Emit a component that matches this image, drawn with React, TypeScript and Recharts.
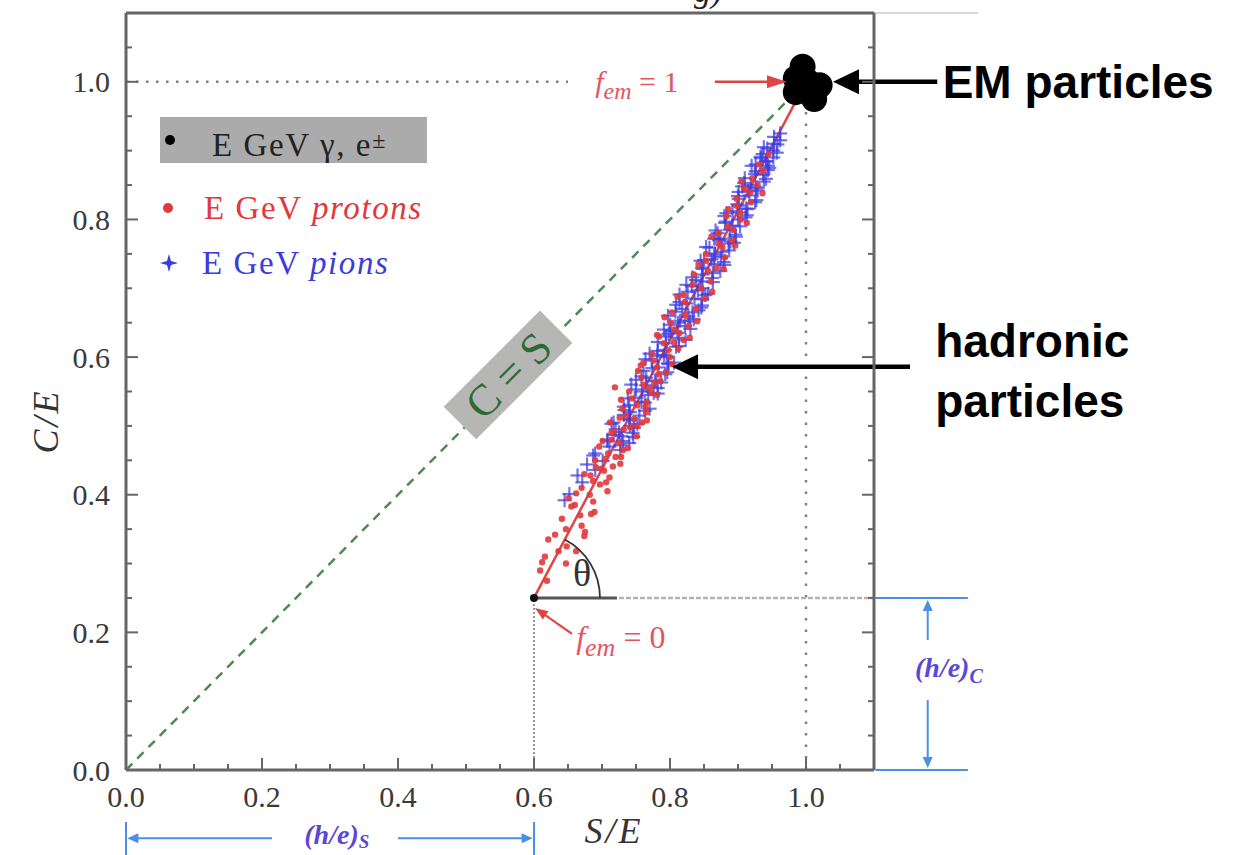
import React from "react";
import {
  ComposedChart,
  Legend,
  ReferenceDot,
  ReferenceLine,
  Scatter,
  XAxis,
  YAxis,
} from "recharts";

const serif = '"Liberation Serif", "Times New Roman", serif';
const sans = '"Liberation Sans", Arial, sans-serif';

// axis ticks (S/E and C/E share the same scale); labels only on the majors
const axisTicks = [
  0, 0.05, 0.1, 0.15, 0.2, 0.25, 0.3, 0.35, 0.4, 0.45, 0.5, 0.55, 0.6, 0.65,
  0.7, 0.75, 0.8, 0.85, 0.9, 0.95, 1.0, 1.05,
];
const majorTicks = [0, 0.2, 0.4, 0.6, 0.8, 1.0];

// series names (legend)
const EM_NAME = "E GeV γ, e±";
const P_NAME = "E GeV protons";
const PI_NAME = "E GeV pions";
const legendOrder = [EM_NAME, P_NAME, PI_NAME];

// [S/E, C/E]
const emCluster: [number, number][] = [
  [0.995, 1.022], [1.02, 0.995], [1.012, 0.975], [0.985, 0.985],
  [0.985, 1.005], [1.003, 1.0],
];

const protons: [number, number][] = [
  [0.619, 0.275], [0.609, 0.29], [0.647, 0.3], [0.616, 0.31], [0.648, 0.325],
  [0.621, 0.335], [0.674, 0.34], [0.647, 0.35], [0.67, 0.355], [0.641, 0.365],
  [0.668, 0.37], [0.689, 0.375], [0.66, 0.385], [0.687, 0.39], [0.651, 0.395],
  [0.682, 0.4], [0.708, 0.405], [0.67, 0.41], [0.697, 0.415], [0.687, 0.42],
  [0.711, 0.425], [0.674, 0.43], [0.703, 0.435], [0.691, 0.44], [0.727, 0.445],
  [0.69, 0.45], [0.72, 0.455], [0.709, 0.46], [0.731, 0.465], [0.696, 0.47],
  [0.726, 0.475], [0.714, 0.48], [0.751, 0.485], [0.714, 0.49], [0.732, 0.495],
  [0.752, 0.5], [0.712, 0.505], [0.747, 0.51], [0.735, 0.515], [0.765, 0.52],
  [0.73, 0.525], [0.752, 0.53], [0.766, 0.535], [0.744, 0.54], [0.781, 0.545],
  [0.74, 0.55], [0.77, 0.555], [0.761, 0.56], [0.786, 0.565], [0.758, 0.57],
  [0.783, 0.575], [0.753, 0.58], [0.781, 0.585], [0.803, 0.59], [0.776, 0.595],
  [0.8, 0.6], [0.773, 0.605], [0.797, 0.61], [0.791, 0.62], [0.719, 0.556],
  [0.82, 0.625], [0.784, 0.63], [0.814, 0.635], [0.806, 0.64], [0.827, 0.645],
  [0.801, 0.65], [0.823, 0.66], [0.803, 0.665], [0.838, 0.67], [0.822, 0.68],
  [0.851, 0.685], [0.82, 0.69], [0.846, 0.7], [0.833, 0.705], [0.86, 0.71],
  [0.835, 0.72], [0.856, 0.725], [0.868, 0.73], [0.853, 0.74], [0.881, 0.745],
  [0.853, 0.75], [0.877, 0.76], [0.871, 0.765], [0.891, 0.77], [0.871, 0.78],
  [0.893, 0.785], [0.885, 0.79], [0.904, 0.8], [0.883, 0.805], [0.903, 0.81],
  [0.898, 0.82], [0.919, 0.825], [0.898, 0.83], [0.918, 0.84], [0.91, 0.845],
  [0.929, 0.85], [0.921, 0.86], [0.937, 0.87], [0.931, 0.88],
  [0.705, 0.452], [0.742, 0.498], [0.726, 0.512], [0.773, 0.548], [0.757, 0.588],
  [0.794, 0.578], [0.812, 0.612], [0.781, 0.632], [0.829, 0.628], [0.764, 0.528],
  [0.699, 0.438], [0.684, 0.372], [0.636, 0.318], [0.655, 0.383], [0.718, 0.492],
  [0.738, 0.468],
  [0.706, 0.418], [0.662, 0.402], [0.728, 0.455], [0.701, 0.478], [0.759, 0.505],
  [0.728, 0.538], [0.777, 0.562], [0.761, 0.592], [0.806, 0.622], [0.792, 0.658],
  [0.84, 0.652], [0.811, 0.688], [0.862, 0.695], [0.842, 0.735], [0.879, 0.728],
  [0.861, 0.775], [0.896, 0.762], [0.886, 0.815], [0.913, 0.795], [0.905, 0.855],
  [0.936, 0.838], [0.945, 0.895], [0.766, 0.508], [0.683, 0.428], [0.716, 0.441],
  [0.631, 0.342], [0.675, 0.346], [0.662, 0.318], [0.612, 0.302],
];

const pions: [number, number][] = [
  [0.645, 0.392], [0.652, 0.401], [0.671, 0.418], [0.664, 0.428], [0.69, 0.436],
  [0.678, 0.444], [0.701, 0.449], [0.687, 0.457],
  [0.69, 0.46], [0.727, 0.465], [0.711, 0.47], [0.74, 0.475], [0.708, 0.48],
  [0.729, 0.485], [0.745, 0.49], [0.72, 0.495], [0.741, 0.5], [0.717, 0.505],
  [0.74, 0.51], [0.755, 0.515], [0.741, 0.52], [0.77, 0.525], [0.74, 0.53],
  [0.758, 0.535], [0.738, 0.54], [0.768, 0.545], [0.759, 0.55], [0.782, 0.555],
  [0.743, 0.56], [0.78, 0.565], [0.765, 0.57], [0.793, 0.575], [0.761, 0.58],
  [0.783, 0.585], [0.798, 0.59], [0.773, 0.595], [0.795, 0.6], [0.77, 0.605],
  [0.793, 0.61], [0.809, 0.615], [0.794, 0.62], [0.823, 0.625], [0.794, 0.63],
  [0.811, 0.635], [0.791, 0.64], [0.822, 0.645], [0.812, 0.65], [0.835, 0.655],
  [0.797, 0.66], [0.833, 0.665], [0.818, 0.67], [0.847, 0.675], [0.814, 0.68],
  [0.836, 0.685], [0.852, 0.69], [0.826, 0.695], [0.848, 0.7], [0.824, 0.705],
  [0.846, 0.71], [0.862, 0.715], [0.848, 0.72], [0.874, 0.725], [0.847, 0.73],
  [0.865, 0.735], [0.845, 0.74], [0.875, 0.745], [0.866, 0.75], [0.887, 0.755],
  [0.853, 0.76], [0.886, 0.765], [0.872, 0.77], [0.897, 0.775], [0.87, 0.78],
  [0.888, 0.785], [0.903, 0.79], [0.881, 0.795], [0.9, 0.8], [0.88, 0.805],
  [0.9, 0.81], [0.914, 0.815], [0.901, 0.82], [0.925, 0.825], [0.901, 0.83],
  [0.917, 0.835], [0.901, 0.84], [0.927, 0.845], [0.919, 0.85], [0.938, 0.855],
  [0.91, 0.86], [0.937, 0.865], [0.926, 0.87], [0.946, 0.875], [0.926, 0.88],
  [0.942, 0.885], [0.952, 0.89], [0.936, 0.895], [0.952, 0.9], [0.938, 0.905],
  [0.953, 0.91], [0.962, 0.915], [0.953, 0.92], [0.962, 0.925],
  [0.731, 0.478], [0.752, 0.503], [0.733, 0.523], [0.776, 0.548], [0.75, 0.567],
  [0.787, 0.563], [0.781, 0.602], [0.806, 0.592], [0.801, 0.638], [0.829, 0.652],
  [0.809, 0.676], [0.842, 0.668], [0.838, 0.712], [0.856, 0.692], [0.861, 0.742],
  [0.879, 0.738], [0.865, 0.772], [0.889, 0.768], [0.892, 0.812], [0.913, 0.806],
  [0.906, 0.848], [0.929, 0.842], [0.934, 0.889], [0.944, 0.878], [0.717, 0.487],
  [0.727, 0.472], [0.708, 0.478], [0.746, 0.484], [0.725, 0.491], [0.747, 0.497],
  [0.714, 0.503], [0.741, 0.509], [0.732, 0.516], [0.763, 0.522], [0.732, 0.528],
  [0.763, 0.534], [0.748, 0.541], [0.782, 0.547], [0.75, 0.553], [0.765, 0.559],
  [0.778, 0.566], [0.758, 0.572], [0.796, 0.578], [0.774, 0.584], [0.797, 0.591],
  [0.764, 0.597], [0.791, 0.603], [0.782, 0.609], [0.813, 0.616], [0.782, 0.622],
  [0.813, 0.628], [0.798, 0.634], [0.83, 0.641], [0.8, 0.647], [0.815, 0.653],
  [0.827, 0.659], [0.808, 0.666], [0.846, 0.672], [0.824, 0.678], [0.847, 0.684],
  [0.814, 0.691], [0.841, 0.697], [0.832, 0.703], [0.863, 0.709], [0.833, 0.716],
  [0.863, 0.722], [0.848, 0.728], [0.88, 0.734], [0.85, 0.741], [0.865, 0.747],
  [0.877, 0.753], [0.858, 0.759], [0.894, 0.766], [0.874, 0.772], [0.896, 0.778],
  [0.867, 0.784], [0.892, 0.791], [0.882, 0.797], [0.911, 0.803], [0.883, 0.809],
  [0.912, 0.816], [0.899, 0.822], [0.927, 0.828], [0.9, 0.834], [0.915, 0.841],
  [0.926, 0.847], [0.909, 0.853], [0.941, 0.859], [0.925, 0.866], [0.944, 0.872],
  [0.92, 0.878], [0.941, 0.884], [0.933, 0.891], [0.957, 0.897], [0.943, 0.903],
  [0.958, 0.909],
];

const toPts = (arr: [number, number][]) => arr.map(([s, c]) => ({ s, c }));

const fmt = (v: number) => v.toFixed(1);
const axisStroke = "#666";
const RED = "#e2383c";
const BLUE = "#3b3be0";
const DIM = "#4a8ee6";
const FEM = "#e4535f";
const LABEL_GAP = 16;

const isMajor = (v: number) => majorTicks.some((m) => Math.abs(m - v) < 1e-6);

// tick renderer: inward tick line (long on majors) plus an optional label
function makeTick(side: "bottom" | "left" | "top" | "right", gap: number, label: boolean) {
  return (p: any) => {
    const v = p.payload.value as number;
    const len = isMajor(v) ? 12 : 6;
    let l = { x1: 0, y1: 0, x2: 0, y2: 0 };
    if (side === "bottom") l = { x1: p.x, x2: p.x, y1: p.y - gap, y2: p.y - gap - len };
    if (side === "top") l = { x1: p.x, x2: p.x, y1: p.y + gap, y2: p.y + gap + len };
    if (side === "left") l = { x1: p.x + gap, x2: p.x + gap + len, y1: p.y, y2: p.y };
    if (side === "right") l = { x1: p.x - gap, x2: p.x - gap - len, y1: p.y, y2: p.y };
    return (
      <g>
        <line {...l} stroke={axisStroke} strokeWidth={2} />
        {label && isMajor(v) && (
          <text
            x={p.x}
            y={p.y}
            dy={side === "bottom" ? "0.71em" : "0.355em"}
            textAnchor={side === "bottom" ? "middle" : "end"}
            fontFamily={serif}
            fontSize={30}
            fill="#3a3a3a"
          >
            {fmt(v)}
          </text>
        )}
      </g>
    );
  };
}

const RedDot = (p: any) => (
  <circle cx={p.cx} cy={p.cy} r={3.2} fill={RED} fillOpacity={0.9} />
);
const BlueCross = (p: any) => (
  <g stroke={BLUE} strokeWidth={2.2} strokeOpacity={0.72}>
    <line x1={p.cx - 7} y1={p.cy} x2={p.cx + 7} y2={p.cy} />
    <line x1={p.cx} y1={p.cy - 7} x2={p.cx} y2={p.cy + 7} />
  </g>
);
const EmBlob = (p: any) => <circle cx={p.cx} cy={p.cy} r={13} fill="#000" />;

// helpers for annotation elements (placed in data coordinates)
function seg(
  key: string,
  a: [number, number],
  b: [number, number],
  stroke: string,
  width: number,
  dash?: string,
) {
  return (
    <ReferenceLine
      key={key}
      segment={[
        { x: a[0], y: a[1] },
        { x: b[0], y: b[1] },
      ]}
      stroke={stroke}
      strokeWidth={width}
      strokeDasharray={dash}
      ifOverflow="visible"
    />
  );
}

function note(key: string, x: number, y: number, draw: (cx: number, cy: number) => React.ReactElement) {
  return (
    <ReferenceDot
      key={key}
      x={x}
      y={y}
      r={1}
      ifOverflow="visible"
      shape={(p: any) => draw(p.cx, p.cy)}
    />
  );
}

function head(key: string, x: number, y: number, angle: number, color: string, len: number, half: number) {
  return note(key, x, y, (cx, cy) => {
    const a = (angle * Math.PI) / 180;
    const dx = Math.cos(a);
    const dy = Math.sin(a);
    const bx = cx - len * dx;
    const by = cy - len * dy;
    const pts = `${cx},${cy} ${bx - half * dy},${by + half * dx} ${bx + half * dy},${by - half * dx}`;
    return <polygon points={pts} fill={color} />;
  });
}

function LegendBox(props: any) {
  const items = [...(props.payload ?? [])].sort(
    (a: any, b: any) => legendOrder.indexOf(a.value) - legendOrder.indexOf(b.value),
  );
  const rows = [
    { top: 0, h: 46, mark: 10, text: 52 },
    { top: 71, h: 40, mark: 8, text: 44 },
    { top: 126, h: 40, mark: 9, text: 42 },
  ];
  return (
    <div style={{ position: "relative", height: 170, fontFamily: serif, fontSize: 33, letterSpacing: 1.6 }}>
      {items.map((it: any, i: number) => {
        const r = rows[i];
        const isEm = it.value === EM_NAME;
        const tail = it.value.slice(6);
        return (
          <div
            key={it.value}
            style={{
              position: "absolute",
              top: r.top,
              left: 0,
              width: 267,
              height: r.h,
              background: isEm ? "#ababab" : "transparent",
              color: isEm ? "#222" : it.color,
            }}
          >
            {it.value === PI_NAME ? (
              <svg width={18} height={18} style={{ position: "absolute", left: r.mark - 9, top: r.h / 2 - 9 }}>
                <path d="M9 0 L11 7 L18 9 L11 11 L9 18 L7 11 L0 9 L7 7 Z" fill={it.color} />
              </svg>
            ) : (
              <span
                style={{
                  position: "absolute",
                  left: r.mark - 5,
                  top: r.h / 2 - 5,
                  width: 10,
                  height: 10,
                  borderRadius: 5,
                  background: it.color,
                }}
              />
            )}
            <span style={{ position: "absolute", left: r.text, top: 0, lineHeight: `${r.h}px`, whiteSpace: "nowrap" }}>
              E GeV{" "}
              {isEm ? (
                <>
                  γ, e<span style={{ fontSize: 24, verticalAlign: 8 }}>±</span>
                </>
              ) : (
                <i>{tail}</i>
              )}
            </span>
          </div>
        );
      })}
    </div>
  );
}

const axisLineStyle = { stroke: axisStroke, strokeWidth: 3 };

export default function App() {
  return (
    <div style={{ position: "absolute", left: 0, top: 0, width: 1247, height: 855, background: "#fff" }}>
      <ComposedChart width={1247} height={855} margin={{ top: 12, right: 372, bottom: 84, left: 125 }}>
        <XAxis
          dataKey="s"
          type="number"
          domain={[0, 1.1]}
          allowDataOverflow
          ticks={axisTicks}
          interval={0}
          height={1}
          tickSize={0}
          tickMargin={LABEL_GAP}
          tick={makeTick("bottom", LABEL_GAP, true)}
          axisLine={axisLineStyle}
          tickLine={false}
        />
        <XAxis
          xAxisId="top"
          orientation="top"
          type="number"
          domain={[0, 1.1]}
          allowDataOverflow
          ticks={axisTicks}
          interval={0}
          height={1}
          tickSize={0}
          tickMargin={0}
          tick={makeTick("top", 0, false)}
          axisLine={axisLineStyle}
          tickLine={false}
        />
        <YAxis
          dataKey="c"
          type="number"
          domain={[0, 1.1]}
          allowDataOverflow
          ticks={axisTicks}
          interval={0}
          width={1}
          tickSize={0}
          tickMargin={LABEL_GAP}
          tick={makeTick("left", LABEL_GAP, true)}
          axisLine={axisLineStyle}
          tickLine={false}
        />
        <YAxis
          yAxisId="right"
          orientation="right"
          type="number"
          domain={[0, 1.1]}
          allowDataOverflow
          ticks={axisTicks}
          interval={0}
          width={1}
          tickSize={0}
          tickMargin={0}
          tick={makeTick("right", 0, false)}
          axisLine={axisLineStyle}
          tickLine={false}
        />

        <Legend
          layout="horizontal"
          verticalAlign="middle"
          align="center"
          wrapperStyle={{ left: 160, top: 117, width: 300 }}
          content={LegendBox}
        />

        {/* guide lines */}
        {seg("dot1", [0, 1], [0.65, 1], "#808080", 2.5, "2.5 7.5")}
        {seg("dotS1", [1, 0], [1, 0.965], "#808080", 2.5, "2.5 9")}
        {seg("cs", [0, 0], [0.97, 0.97], "#4f8a55", 2.5, "9 7")}
        {seg("hc", [0.6, 0.25], [0.722, 0.25], "#555", 3)}
        {seg("hcd", [0.725, 0.25], [1.1, 0.25], "#b4b4b4", 2.5, "5 2")}
        {seg("hs", [0.6, 0], [0.6, 0.25], "#777", 1.5, "2 2")}
        {seg("fem", [0.6, 0.25], [1, 1], "#e04545", 2.5)}
        {seg("topExt", [1.1, 1.1], [1.253, 1.1], "#cccccc", 1.5)}

        <Scatter name={EM_NAME} data={toPts(emCluster)} fill="#000" shape={EmBlob} isAnimationActive={false} />
        <Scatter name={PI_NAME} data={toPts(pions)} fill={BLUE} shape={BlueCross} isAnimationActive={false} />
        <Scatter name={P_NAME} data={toPts(protons)} fill={RED} shape={RedDot} isAnimationActive={false} />

        {note("p0", 0.6, 0.25, (cx, cy) => <circle cx={cx} cy={cy} r={4} fill="#111" />)}
        {note("theta", 0.6, 0.25, (cx, cy) => {
          const r = 66;
          const a = (62.2 * Math.PI) / 180;
          return (
            <path
              d={`M${cx + r},${cy} A${r},${r} 0 0 0 ${cx + r * Math.cos(a)},${cy - r * Math.sin(a)}`}
              fill="none"
              stroke="#333"
              strokeWidth={1.8}
            />
          );
        })}
        {note("thetaTxt", 0.6706, 0.2863, (cx, cy) => (
          <text x={cx} y={cy} dy="0.35em" textAnchor="middle" fontFamily={serif} fontSize={38} fill="#333">
            θ
          </text>
        ))}

        {/* C = S label */}
        {note("csLabel", 0.5618, 0.5741, (cx, cy) => (
          <g transform={`translate(${cx},${cy}) rotate(-45)`}>
            <rect x={-68} y={-23} width={136} height={46} fill="#b6b7b4" />
            <text x={0} y={0} dy="0.35em" textAnchor="middle" fontFamily={serif} fontSize={44} fill="#2c6a32">
              C = S
            </text>
          </g>
        ))}

        {/* f_em = 1 */}
        {note("fem1", 0.69, 0.9855, (cx, cy) => (
          <text x={cx} y={cy} fontFamily={serif} fontSize={30} fill={FEM}>
            <tspan fontStyle="italic">f</tspan>
            <tspan fontStyle="italic" fontSize={24} dy={7}>em</tspan>
            <tspan dy={-7}> = 1</tspan>
          </text>
        ))}
        {seg("fem1Arrow", [0.866, 1], [0.95, 1], "#e04545", 2.5)}
        {head("fem1Head", 0.972, 1, 0, "#e04545", 20, 6.5)}

        {/* f_em = 0 */}
        {note("fem0", 0.662, 0.1773, (cx, cy) => (
          <text x={cx} y={cy} fontFamily={serif} fontSize={32} fill={FEM}>
            <tspan fontStyle="italic">f</tspan>
            <tspan fontStyle="italic" fontSize={26} dy={8}>em</tspan>
            <tspan dy={-8}> = 0</tspan>
          </text>
        ))}
        {seg("fem0Arrow", [0.6559, 0.1977], [0.6124, 0.2279], "#e04545", 2.2)}
        {head("fem0Head", 0.6015, 0.2355, -144.9, "#e04545", 13, 5)}

        {/* EM particles */}
        {seg("emArrow", [1.193, 1], [1.06, 1], "#000", 4.5)}
        {head("emHead", 1.0397, 1, 180, "#000", 26, 12.5)}
        {note("emTxt", 1.201, 0.977, (cx, cy) => (
          <text x={cx} y={cy} fontFamily={sans} fontWeight="bold" fontSize={46} fill="#000">
            EM particles
          </text>
        ))}

        {/* hadronic particles */}
        {seg("hadArrow", [1.153, 0.5858], [0.83, 0.5858], "#000", 4.5)}
        {head("hadHead", 0.803, 0.5858, 180, "#000", 26, 12.5)}
        {note("hadTxt1", 1.19, 0.6, (cx, cy) => (
          <text x={cx} y={cy} fontFamily={sans} fontWeight="bold" fontSize={46} fill="#000">
            hadronic
          </text>
        ))}
        {note("hadTxt2", 1.19, 0.513, (cx, cy) => (
          <text x={cx} y={cy} fontFamily={sans} fontWeight="bold" fontSize={46} fill="#000">
            particles
          </text>
        ))}

        {/* (h/e)_S dimension */}
        {seg("hsBarL", [0, -0.0756], [0, -0.13], DIM, 2)}
        {seg("hsBarR", [0.6, -0.0756], [0.6, -0.13], DIM, 2)}
        {seg("hsLineL", [0.012, -0.099], [0.2147, -0.099], DIM, 2)}
        {seg("hsLineR", [0.4, -0.099], [0.588, -0.099], DIM, 2)}
        {head("hsHeadL", 0.002, -0.099, 180, DIM, 11, 5)}
        {head("hsHeadR", 0.598, -0.099, 0, DIM, 11, 5)}
        {note("hsTxt", 0.31, -0.107, (cx, cy) => (
          <text x={cx} y={cy} textAnchor="middle" fontFamily={serif} fontStyle="italic" fontWeight="bold" fontSize={28} fill="#5a48d8">
            (h/e)<tspan fontSize={19} dy={4}>S</tspan>
          </text>
        ))}

        {/* (h/e)_C dimension */}
        {seg("hcTop", [1.102, 0.25], [1.238, 0.25], DIM, 2)}
        {seg("hcBot", [1.102, 0], [1.238, 0], DIM, 2)}
        {seg("hcUp", [1.179, 0.189], [1.179, 0.235], DIM, 2)}
        {seg("hcDown", [1.179, 0.1017], [1.179, 0.015], DIM, 2)}
        {head("hcHeadUp", 1.179, 0.247, -90, DIM, 11, 5)}
        {head("hcHeadDown", 1.179, 0.003, 90, DIM, 11, 5)}
        {note("hcTxt", 1.1603, 0.135, (cx, cy) => (
          <text x={cx} y={cy} fontFamily={serif} fontStyle="italic" fontWeight="bold" fontSize={28} fill="#5a48d8">
            (h/e)<tspan fontSize={20} dy={6}>C</tspan>
          </text>
        ))}

        {/* axis titles */}
        {note("yTitle", -0.1191, 0.5073, (cx, cy) => (
          <text
            x={cx}
            y={cy}
            dy="0.35em"
            textAnchor="middle"
            transform={`rotate(-90 ${cx} ${cy})`}
            fontFamily={serif}
            fontStyle="italic"
            fontSize={36}
            letterSpacing={3}
            fill="#333"
          >
            C/E
          </text>
        ))}
        {note("xTitle", 0.7176, -0.0872, (cx, cy) => (
          <text x={cx} y={cy} dy="0.35em" textAnchor="middle" fontFamily={serif} fontStyle="italic" fontSize={36} letterSpacing={3} fill="#333">
            S/E
          </text>
        ))}

        {/* cut-off title fragment at the top edge */}
        {note("titleFrag", 0.877, 1.116, (cx, cy) => (
          <text x={cx} y={cy} textAnchor="end" fontFamily={serif} fontStyle="italic" fontSize={34} fill="#222">
            g)
          </text>
        ))}
      </ComposedChart>
    </div>
  );
}
